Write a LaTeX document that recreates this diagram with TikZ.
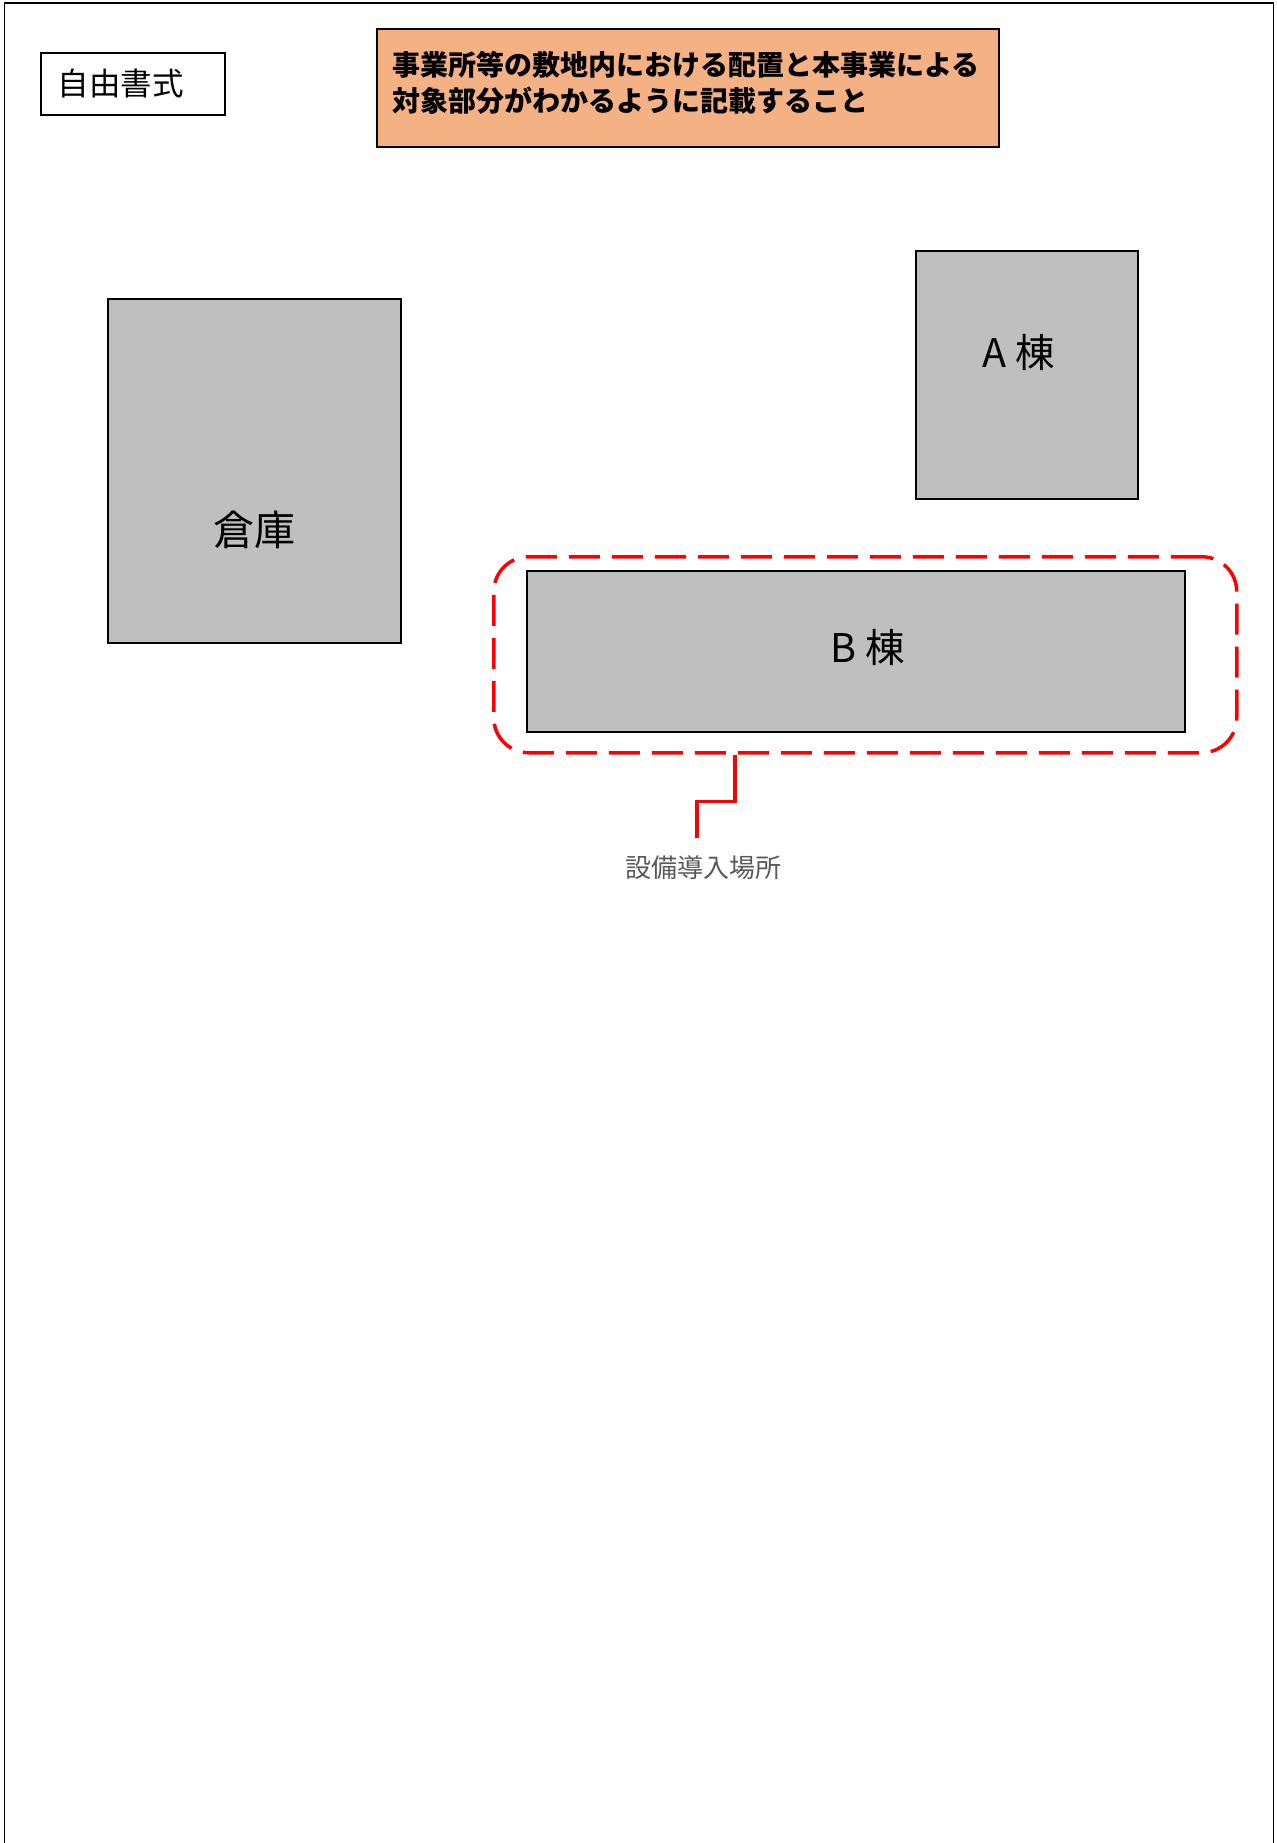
\documentclass[tikz,border=0pt]{standalone}
\usepackage{fontspec}
\setmainfont{Noto Sans CJK JP}
\usetikzlibrary{positioning}
\definecolor{notefill}{HTML}{F4B183}
\definecolor{bldggray}{HTML}{BFBFBF}

\begin{document}
\begin{tikzpicture}[x=1pt, y=-1pt,
  frame/.style={draw, line width=1.6pt, inner sep=0pt, anchor=north west},
  bldg/.style={frame, fill=bldggray},
  target/.style={draw=red, line width=3.5pt, dash pattern=on 31pt off 12pt, rounded corners=35pt, inner sep=0pt, anchor=north west},
  leader/.style={red, line width=3.5pt}]
\useasboundingbox (0,0) rectangle (1276,1843);
\draw[line width=1.8pt] (4.5,1843) -- (4.5,3) -- (1273.5,3) -- (1273.5,1843);

\node[frame, minimum width=184pt, minimum height=62pt, text width=150pt, inner xsep=17pt, align=left,
  font=\fontsize{31.5pt}{36pt}\selectfont] (form) at (40,52) {自由書式};
\node[frame, fill=notefill, minimum width=622pt, minimum height=118pt, text width=590pt, inner xsep=16pt, align=left,
  font=\fontsize{28pt}{36pt}\selectfont\bfseries, execute at end node={\par\vspace{10pt}}] (note) at (376,28)
  {事業所等の敷地内における配置と本事業による\\対象部分がわかるように記載すること};

% buildings
\node[bldg, minimum width=293pt, minimum height=344pt,
  label={[yshift=-59pt, font=\fontsize{41pt}{46pt}\selectfont]center:倉庫}] (soko) at (107,298) {};
\node[bldg, minimum width=222pt, minimum height=248pt,
  label={[xshift=-8pt, yshift=22pt, font=\fontsize{39.5pt}{46pt}\selectfont]center:A 棟}] (tou_a) at (915,250) {};
\node[target, minimum width=743pt, minimum height=196pt] (area) at (492,555) {};
\node[bldg, minimum width=658pt, minimum height=161pt,
  label={[xshift=12pt, yshift=4pt, font=\fontsize{39.5pt}{46pt}\selectfont]center:B 棟}] (tou_b) at (526,570) {};

% label for target area
\node[text=black!65, font=\fontsize{26pt}{30pt}\selectfont] (place) at (703,868) {設備導入場所};
\draw[leader] ([xshift=-130.5pt]area.south) -- ++(0,47) -| ([xshift=-6pt, yshift=14pt]place.north);
\end{tikzpicture}
\end{document}
